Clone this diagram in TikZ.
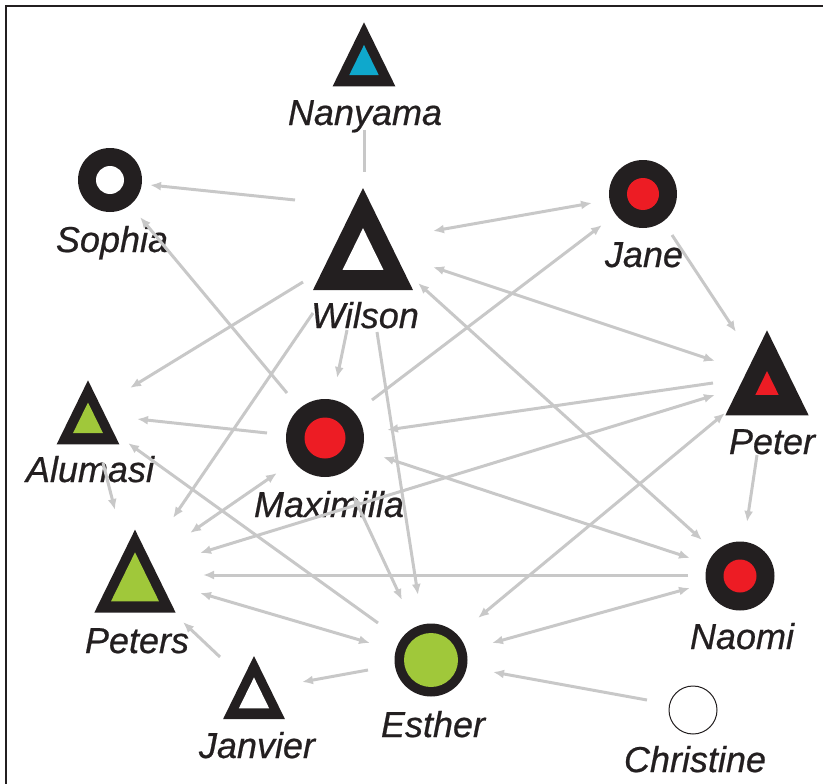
\documentclass[tikz,border=0pt]{standalone}
\usepackage{fontspec}
\setmainfont{Liberation Sans}
\newfontfamily\namefont{Liberation Sans}[FakeBold=0.6]
\usepackage{tikz}
\usetikzlibrary{arrows.meta}

\definecolor{ink}{HTML}{231F20}
\definecolor{edge}{HTML}{C8C8C8}
\definecolor{redin}{HTML}{ED1C24}
\definecolor{greenin}{HTML}{A0C83A}
\definecolor{bluein}{HTML}{0FA8CC}

% triangle actor: name, x, y (centroid), height, inner scale, inner colour
\newcommand{\actortri}[6]{%
  \coordinate (#1) at (#2,#3);
  \begin{scope}[shift={(#1)}]
    \fill[ink] (0,{-2*#4/3}) -- ({0.49*#4},{#4/3}) -- ({-0.49*#4},{#4/3}) -- cycle;
    \fill[#6, scale=#5] (0,{-2*#4/3}) -- ({0.49*#4},{#4/3}) -- ({-0.49*#4},{#4/3}) -- cycle;
  \end{scope}}
% circle actor: name, x, y, outer radius, inner radius, inner colour
\newcommand{\actorring}[6]{%
  \coordinate (#1) at (#2,#3);
  \fill[ink] (#1) circle[radius=#4];
  \fill[#6] (#1) circle[radius=#5];}

\begin{document}
\begin{tikzpicture}[x=1pt, y=-1pt,
  lbl/.style={anchor=base, inner sep=0pt, font=\namefont\fontsize{36}{40}\selectfont\itshape, text=ink},
  tie/.style={draw=edge, line width=3pt},
  link/.style={tie, -{Latex[length=11pt,width=9pt]}},
  twoway/.style={tie, {Latex[length=11pt,width=9pt]}-{Latex[length=11pt,width=9pt]}}]
\useasboundingbox (0,0) rectangle (823,784);
\draw[ink, line width=2.5pt] (6,784) -- (6,6) -- (823,6);

% actors
\actortri{nanyama}{364}{65}{64}{0.47}{bluein}
\actortri{wilson}{363}{256}{102}{0.41}{white}
\actortri{peter}{767}{387}{85}{0.28}{redin}
\actortri{alumasi}{88}{423}{64}{0.48}{greenin}
\actortri{peters}{135}{585}{83}{0.59}{greenin}
\actortri{janvier}{254}{698}{63}{0.49}{white}
\actorring{sophia}{110}{180}{32}{14}{white}
\actorring{jane}{643}{194}{34}{16}{redin}
\actorring{maxi}{325}{438}{39}{20.5}{redin}
\actorring{naomi}{740}{576}{34.5}{16.5}{redin}
\actorring{esther}{431}{660}{36.5}{27}{greenin}
\coordinate (christine) at (693,710);
\draw[ink, line width=1pt] (christine) circle[radius=24];

% names
\node[lbl] (nanyama-lbl) at (365,125) {Nanyama};
\node[lbl] (sophia-lbl) at (112,252) {Sophia};
\node[lbl] (wilson-lbl) at (365,328) {Wilson};
\node[lbl] (jane-lbl) at (644,267) {Jane};
\node[lbl] (peter-lbl) at (772,454) {Peter};
\node[lbl] (alumasi-lbl) at (90,482) {Alumasi};
\node[lbl] (maxi-lbl) at (329,517) {Maximilla};
\node[lbl] (peters-lbl) at (137,653) {Peters};
\node[lbl] (naomi-lbl) at (742,649) {Naomi};
\node[lbl] (esther-lbl) at (433,737) {Esther};
\node[lbl] (janvier-lbl) at (257,758) {Janvier};
\node[lbl] (christine-lbl) at (695,772) {Christine};

% ties
\draw[tie] ([shift={(0,65)}]nanyama) -- ([shift={(1,-84)}]wilson);
\draw[link] ([shift={(-68,-56)}]wilson) -- ([shift={(40,5)}]sophia);
\draw[twoway] ([shift={(70,-25)}]wilson) -- ([shift={(-51,9)}]jane);
\draw[twoway] ([shift={(70,11)}]wilson) -- ([shift={(-52,-26)}]peter);
\draw[link] ([shift={(29,41)}]jane) -- ([shift={(-31,-55)}]peter);
\draw[link] ([shift={(47,-38)}]maxi) -- ([shift={(-41,31)}]jane);
\draw[link] ([shift={(-38,-45)}]maxi) -- ([shift={(30,37)}]sophia);
\draw[link] ([shift={(-60,26)}]wilson) -- ([shift={(42,-35)}]alumasi);
\draw[link] ([shift={(-58,-5)}]maxi) -- ([shift={(49,-4)}]alumasi);
\draw[link] ([shift={(-53,-37)}]esther) -- ([shift={(40,20)}]alumasi);
\draw[link] ([shift={(15,40)}]alumasi) -- ([shift={(-20,-75)}]peters);
\draw[link] ([shift={(-50,57)}]wilson) -- ([shift={(38,-67)}]peters);
\draw[twoway] ([shift={(-48,35)}]maxi) -- ([shift={(55,-52)}]peters);
\draw[twoway] ([shift={(-52,8)}]peter) -- ([shift={(65,-32)}]peters);
\draw[link] ([shift={(-54,-4)}]peter) -- ([shift={(62,-8)}]maxi);
\draw[twoway] ([shift={(-42,26)}]peter) -- ([shift={(47,-42)}]esther);
\draw[link] ([shift={(-10,68)}]peter) -- ([shift={(7,-54)}]naomi);
\draw[twoway] ([shift={(55,27)}]wilson) -- ([shift={(-38,-36)}]naomi);
\draw[twoway] ([shift={(58,19)}]maxi) -- ([shift={(-50,-18)}]naomi);
\draw[link] ([shift={(-52,-1)}]naomi) -- ([shift={(68,-10)}]peters);
\draw[twoway] ([shift={(61,-17)}]esther) -- ([shift={(-50,12)}]naomi);
\draw[link] ([shift={(-46,-10)}]christine) -- ([shift={(62,12)}]esther);
\draw[link] ([shift={(-63,10)}]esther) -- ([shift={(48,-16)}]janvier);
\draw[link] ([shift={(-34,-41)}]janvier) -- ([shift={(48,37)}]peters);
\draw[twoway] ([shift={(-61,-17)}]esther) -- ([shift={(65,8)}]peters);
\draw[twoway] ([shift={(28,57)}]maxi) -- ([shift={(-29,-60)}]esther);
\draw[link] ([shift={(14,76)}]wilson) -- ([shift={(-13,-65)}]esther);
\draw[link] ([shift={(-16,74)}]wilson) -- ([shift={(12,-60)}]maxi);
\end{tikzpicture}
\end{document}
